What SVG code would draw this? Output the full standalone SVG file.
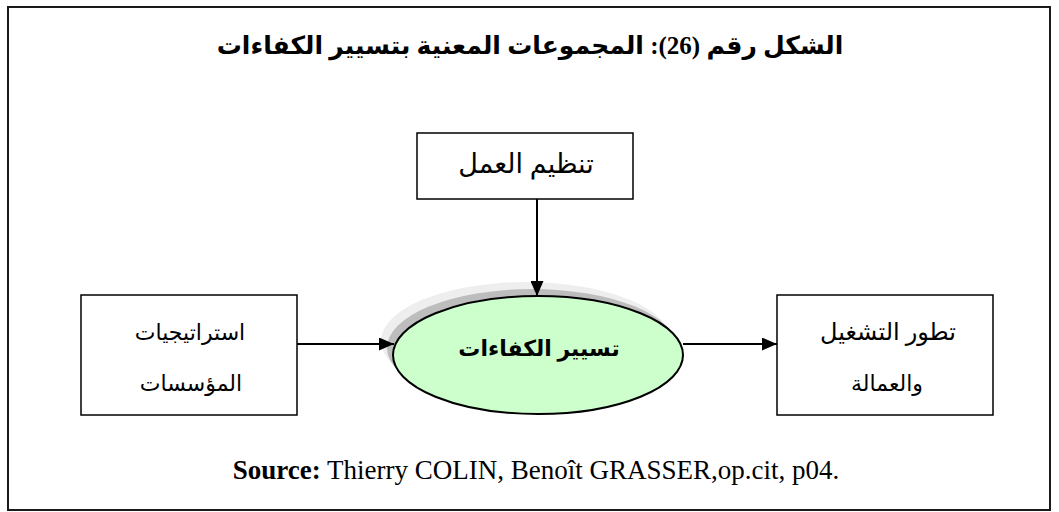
<svg xmlns="http://www.w3.org/2000/svg" width="1059" height="512" viewBox="0 0 1059 512">
  <style>
    .frame { fill: #ffffff; stroke: #1a1a1a; stroke-width: 2; }
    .box { fill: #ffffff; stroke: #000000; stroke-width: 1.5; }
    .ar { font-family: "Liberation Serif", "DejaVu Sans", sans-serif; fill: #000000; text-anchor: middle; direction: rtl; }
    .title { font-size: 25px; font-weight: bold; }
    .lbl { font-size: 22px; }
    .core { font-size: 22px; font-weight: bold; }
    .src { font-family: "Liberation Serif", serif; font-size: 27px; fill: #000000; }
    .edge { fill: none; stroke: #000000; stroke-width: 2; }
  </style>
  <defs>
    <marker id="arrow" viewBox="0 0 15 13" refX="15" refY="6.5" markerWidth="15" markerHeight="13" markerUnits="userSpaceOnUse" orient="auto">
      <path d="M0,0 L15,6.5 L0,13 Z" fill="#000000"/>
    </marker>
  </defs>

  <!-- outer frame -->
  <rect class="frame" x="8" y="7" width="1042" height="503"/>

  <!-- heading -->
  <text class="ar title" x="530" y="54">الشكل رقم (26): المجموعات المعنية بتسيير الكفاءات</text>

  <g id="node-organisation">
    <rect class="box" x="417" y="133" width="216" height="66"/>
    <text class="ar lbl" x="526" y="173" style="font-size:27px">تنظيم العمل</text>
  </g>

  <g id="node-strategies">
    <rect class="box" x="81" y="295" width="216" height="120"/>
    <text class="ar lbl" x="190" y="340">استراتيجيات</text>
    <text class="ar lbl" x="191" y="391">المؤسسات</text>
  </g>

  <g id="node-employment">
    <rect class="box" x="777" y="295" width="216" height="120"/>
    <text class="ar lbl" x="888" y="340" style="font-size:24px">تطور التشغيل</text>
    <text class="ar lbl" x="887" y="391">والعمالة</text>
  </g>

  <g id="node-competencies">
    <ellipse cx="526" cy="341" rx="145" ry="59" fill="#eeeeee"/>
    <ellipse cx="532" cy="348" rx="145" ry="59" fill="#bdbdbd"/>
    <ellipse cx="538" cy="355" rx="145" ry="59" fill="#ccffcc" stroke="#000000" stroke-width="2"/>
    <text class="ar core" x="539" y="356">تسيير الكفاءات</text>
  </g>

  <!-- connectors, drawn over the shaded ellipse -->
  <g id="connectors">
    <line class="edge" x1="537" y1="199" x2="537" y2="296" marker-end="url(#arrow)"/>
    <line class="edge" x1="297" y1="344" x2="394" y2="344" marker-end="url(#arrow)"/>
    <line class="edge" x1="683" y1="344" x2="777" y2="344" marker-end="url(#arrow)"/>
  </g>

  <!-- reference note -->
  <text class="src" x="536" y="479" text-anchor="middle"><tspan font-weight="bold">Source:</tspan>  Thierry COLIN, Benoît GRASSER,op.cit, p04.</text>
</svg>
